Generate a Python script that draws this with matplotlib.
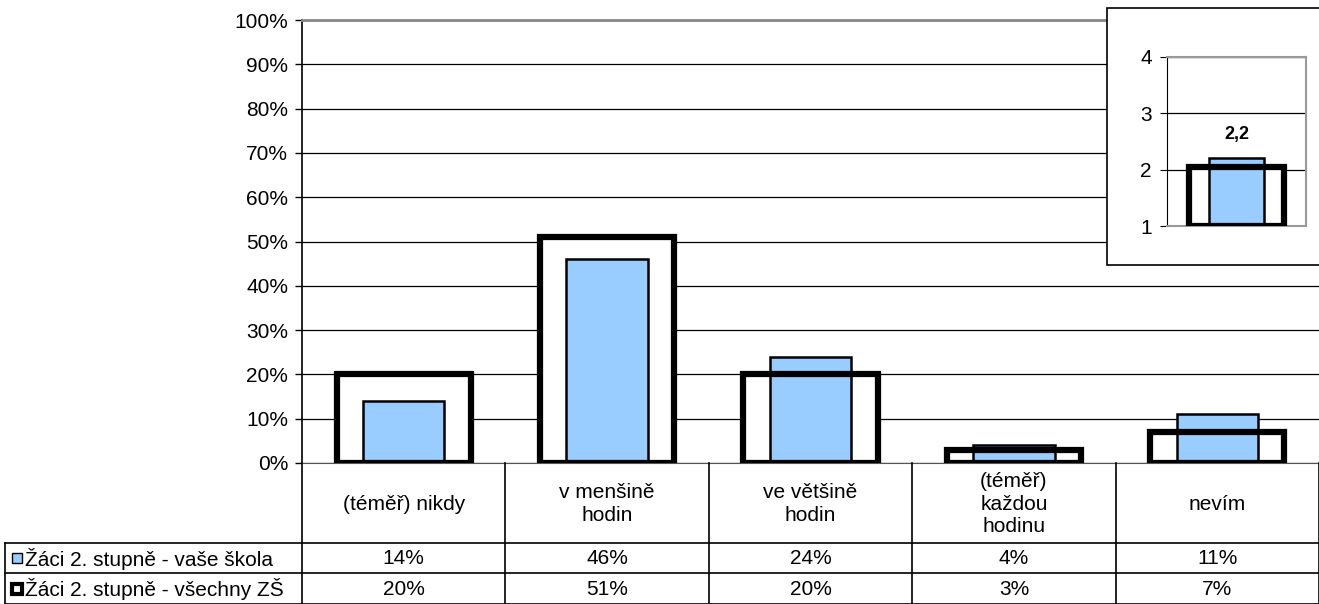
import numpy as np
import matplotlib.pyplot as plt
from matplotlib.patches import Rectangle

plt.rcParams['font.family'] = ['Liberation Sans', 'DejaVu Sans']

# data
kategorie = ["(téměř) nikdy", "v menšině\nhodin", "ve většině\nhodin", "(téměř)\nkaždou\nhodinu", "nevím"]
vase_skola = [14, 46, 24, 4, 11]
vsechny_zs = [20, 51, 20, 3, 7]
serie = ["Žáci 2. stupně - vaše škola", "Žáci 2. stupně - všechny ZŠ"]
prumer_skola = 2.2
prumer_vsechny = 2.05
prumer_popisek = "2,2"

MODRA = "#99CCFF"
W, H = 1319, 604
fs = 15

fig = plt.figure(figsize=(W / 100, H / 100), dpi=100)

def box(x0, y0, x1, y1):
    # pixel box (top-left origin) -> figure fraction
    return [x0 / W, 1 - y1 / H, (x1 - x0) / W, (y1 - y0) / H]

######################### HLAVNI GRAF ################################
ax = fig.add_axes(box(302, 20, 1319, 463))
x = np.arange(len(kategorie))
ax.bar(x, vsechny_zs, width=0.66, color="white", edgecolor="none", zorder=2)
ax.bar(x, vase_skola, width=0.40, color=MODRA, edgecolor="black", linewidth=1.8, zorder=3)
ax.bar(x, vsechny_zs, width=0.66, color="none", edgecolor="black", linewidth=4.5, zorder=4)
ax.set_xlim(-0.5, len(kategorie) - 0.5)
ax.set_ylim(0, 100)
ax.set_yticks(np.arange(0, 101, 10))
ax.set_yticklabels([f"{v}%" for v in range(0, 101, 10)], fontsize=fs)
ax.set_xticks([])
ax.tick_params(axis="y", direction="out", length=5, width=1, color="black", pad=5)
ax.yaxis.grid(True, color="black", linewidth=0.9, zorder=0)
ax.set_axisbelow(True)
ax.spines["right"].set_visible(False)
ax.spines["top"].set_color("#888888")
ax.spines["top"].set_linewidth(2)
ax.spines["left"].set_linewidth(1.2)
ax.spines["bottom"].set_color("#555555")

######################### VLOZENY GRAF (PRUMER) ################################
fig.patches.append(Rectangle((1107 / W, 1 - 265 / H), (W - 1107) / W + 0.01, (265 - 8) / H,
                             transform=fig.transFigure, facecolor="white", edgecolor="black",
                             linewidth=1.2, zorder=5))
ax2 = fig.add_axes(box(1167, 57, 1306, 226))
ax2.set_zorder(6)
ax2.bar([0], [prumer_vsechny - 1], bottom=1, width=0.68, color="white", edgecolor="none", zorder=2)
ax2.bar([0], [prumer_skola - 1], bottom=1, width=0.40, color=MODRA, edgecolor="black", linewidth=1.8, zorder=3)
ax2.bar([0], [prumer_vsechny - 1], bottom=1, width=0.68, color="none", edgecolor="black", linewidth=4.5, zorder=4)
ax2.annotate(prumer_popisek, (0, prumer_skola), xytext=(0, 15), textcoords="offset pixels",
             ha="center", va="bottom", fontsize=fs - 2, fontweight="bold")
ax2.set_xlim(-0.5, 0.5)
ax2.set_ylim(1, 4)
ax2.set_yticks([1, 2, 3, 4])
ax2.set_yticklabels(["1", "2", "3", "4"], fontsize=fs)
ax2.set_xticks([])
ax2.tick_params(axis="y", direction="out", length=5, pad=6)
ax2.yaxis.grid(True, color="black", linewidth=0.9)
ax2.set_axisbelow(True)
for s in ["top", "right", "bottom"]:
    ax2.spines[s].set_color("#999999")
    ax2.spines[s].set_linewidth(1.5)

######################### TABULKA ################################
cw = (W - 302) / len(kategorie)
left_x = -0.5 - (302 - 5) / cw
tab = fig.add_axes(box(5, 463, 1319, 604))
tab.set_xlim(left_x, len(kategorie) - 0.5)
tab.set_ylim(141, 0)
tab.axis("off")

r0, r1, r2, r3 = 0, 80, 110, 141
# svisle cary
for i in range(len(kategorie) + 1):
    tab.plot([i - 0.5, i - 0.5], [r0, r3], color="black", lw=1.2, clip_on=False)
tab.plot([left_x, left_x], [r1, r3], color="black", lw=1.2, clip_on=False)
# vodorovne cary
tab.plot([left_x, len(kategorie) - 0.5], [r1, r1], color="black", lw=1.2, clip_on=False)
tab.plot([left_x, len(kategorie) - 0.5], [r2, r2], color="black", lw=1.2, clip_on=False)
tab.plot([left_x, len(kategorie) - 0.5], [r3 - 0.5, r3 - 0.5], color="black", lw=1.2, clip_on=False)

for i, k in enumerate(kategorie):
    tab.text(i, (r0 + r1) / 2 + 1, k, ha="center", va="center", fontsize=fs, linespacing=1.25)
    tab.text(i, (r1 + r2) / 2 + 1, f"{vase_skola[i]}%", ha="center", va="center", fontsize=fs)
    tab.text(i, (r2 + r3) / 2 + 1, f"{vsechny_zs[i]}%", ha="center", va="center", fontsize=fs)

mx = left_x + 12 / cw
tab.plot([mx], [(r1 + r2) / 2], marker="s", ms=7, mfc=MODRA, mec="black", mew=1, clip_on=False)
tab.plot([mx], [(r2 + r3) / 2], marker="s", ms=7, mfc="white", mec="black", mew=3, clip_on=False)
tab.text(left_x + 20 / cw, (r1 + r2) / 2 + 1, serie[0], ha="left", va="center", fontsize=fs)
tab.text(left_x + 20 / cw, (r2 + r3) / 2 + 1, serie[1], ha="left", va="center", fontsize=fs)

fig.savefig("out.png", dpi=100)
